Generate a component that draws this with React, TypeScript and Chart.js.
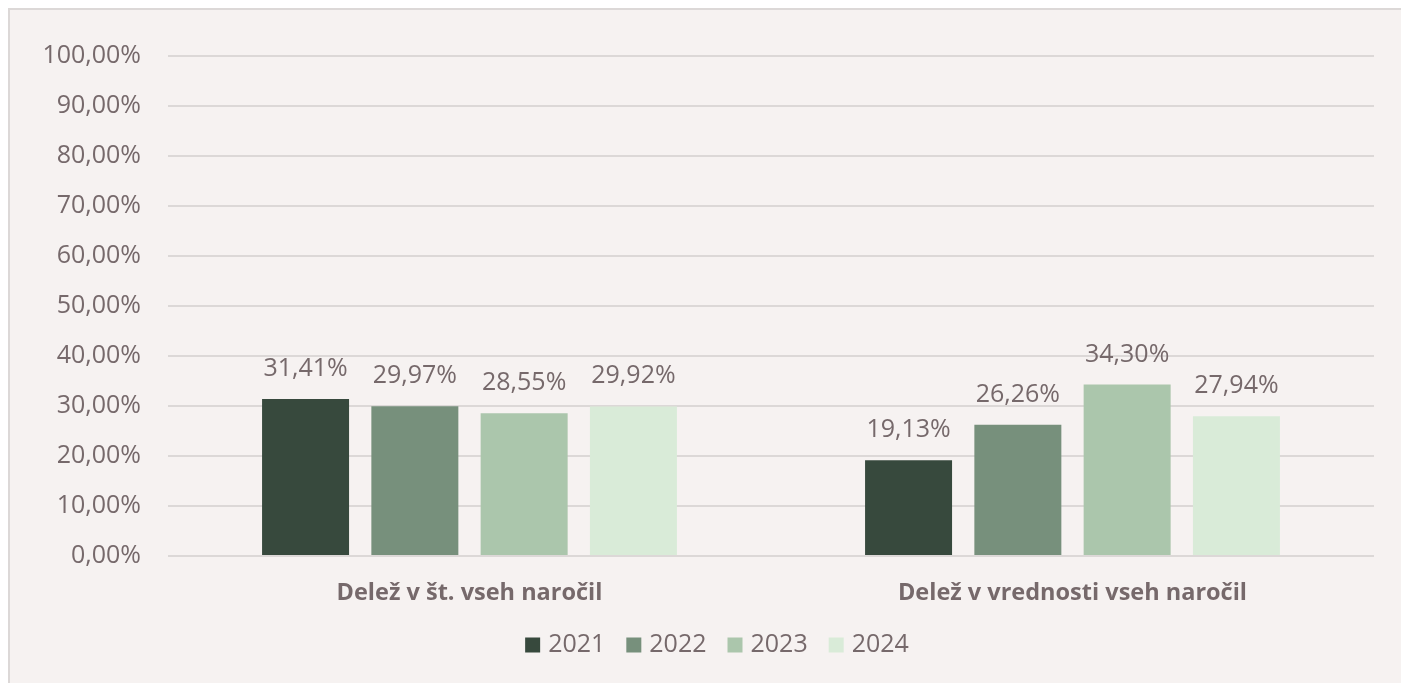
import React, { useEffect, useRef } from "react";
import { Chart, registerables } from "chart.js";

Chart.register(...registerables);

const categories = ["Delež v št. vseh naročil", "Delež v vrednosti vseh naročil"];
const seriesLabels = ["2021", "2022", "2023", "2024"];
const values2021 = [31.41, 19.13];
const values2022 = [29.97, 26.26];
const values2023 = [28.55, 34.3];
const values2024 = [29.92, 27.94];
const seriesColors = ["#37493d", "#77907c", "#abc6ac", "#d9ebd8"];
const yTicks = [0, 10, 20, 30, 40, 50, 60, 70, 80, 90, 100];

const TEXT = "#76696b";
const FONT = "'Open Sans', 'Noto Sans', sans-serif";

const fmt = (v: number) => v.toFixed(2).replace(".", ",") + "%";

const dataLabelPlugin = {
  id: "dataLabels",
  afterDatasetsDraw(chart: any) {
    const ctx = chart.ctx;
    ctx.save();
    ctx.font = `25px ${FONT}`;
    ctx.fillStyle = TEXT;
    ctx.textAlign = "center";
    ctx.textBaseline = "alphabetic";
    chart.data.datasets.forEach((ds: any, i: number) => {
      const meta = chart.getDatasetMeta(i);
      meta.data.forEach((bar: any, j: number) => {
        ctx.fillText(fmt(ds.data[j]), bar.x, bar.y - 23);
      });
    });
    ctx.restore();
  },
};

const legendPlugin = {
  id: "customLegend",
  afterDraw(chart: any) {
    const ctx = chart.ctx;
    ctx.save();
    ctx.font = `25px ${FONT}`;
    const box = 15;
    const gapBoxText = 8;
    const gapItems = 21;
    const items = chart.data.datasets.map((ds: any) => ({
      label: ds.label,
      color: ds.backgroundColor,
      w: ctx.measureText(ds.label).width,
    }));
    const total =
      items.reduce((s: number, it: any) => s + box + gapBoxText + it.w, 0) +
      gapItems * (items.length - 1);
    let x = chart.width / 2 - total / 2;
    const cy = chart.chartArea.bottom + 89;
    items.forEach((it: any) => {
      ctx.fillStyle = it.color;
      ctx.fillRect(x, cy - box / 2, box, box);
      x += box + gapBoxText;
      ctx.fillStyle = TEXT;
      ctx.textAlign = "left";
      ctx.textBaseline = "middle";
      ctx.fillText(it.label, x, cy);
      x += it.w + gapItems;
    });
    ctx.restore();
  },
};

export default function App() {
  const ref = useRef<HTMLCanvasElement | null>(null);

  useEffect(() => {
    let chart: Chart | null = null;
    let cancelled = false;
    const make = () => {
      if (cancelled || !ref.current) return;
      const allSeries = [values2021, values2022, values2023, values2024];
      chart = new Chart(ref.current, {
        type: "bar",
        data: {
          labels: categories,
          datasets: allSeries.map((vals, i) => ({
            label: seriesLabels[i],
            data: vals,
            backgroundColor: seriesColors[i],
            borderWidth: 0,
            categoryPercentage: 0.725,
            barPercentage: 0.796,
          })),
        },
        options: {
          responsive: false,
          maintainAspectRatio: false,
          animation: false,
          layout: { padding: { top: 46, right: 50, bottom: 0, left: 0 } },
          plugins: {
            legend: { display: false },
            tooltip: { enabled: false },
            title: { display: false },
          },
          scales: {
            x: {
              grid: { display: false, drawTicks: false },
              border: { display: false },
              ticks: {
                color: TEXT,
                padding: 23,
                font: { family: FONT, size: 23.5, weight: "bold" },
              },
              afterFit: (s: any) => {
                s.height = 127;
              },
            },
            y: {
              min: 0,
              max: 100,
              afterBuildTicks: (s: any) => {
                s.ticks = yTicks.map((v) => ({ value: v }));
              },
              grid: { color: "#dcd8d7", lineWidth: 2, drawTicks: false },
              border: { display: false },
              ticks: {
                color: TEXT,
                padding: 27,
                font: { family: FONT, size: 25 },
                callback: (v: any) => fmt(Number(v)),
              },
              afterFit: (s: any) => {
                s.width = 158;
              },
            },
          },
        },
        plugins: [dataLabelPlugin, legendPlugin],
      });
    };
    const fontsReady = (document as any).fonts
      ? Promise.all([
          (document as any).fonts.load(`25px 'Open Sans'`),
          (document as any).fonts.load(`bold 23.5px 'Open Sans'`),
        ]).catch(() => null)
      : Promise.resolve(null);
    fontsReady.then(make);
    return () => {
      cancelled = true;
      if (chart) chart.destroy();
    };
  }, []);

  return (
    <div
      style={{
        position: "fixed",
        left: 0,
        top: 0,
        width: "100vw",
        height: "100vh",
        overflow: "hidden",
        background: "#ffffff",
      }}
    >
      <div
        style={{
          position: "absolute",
          left: 8,
          top: 8,
          width: 1416,
          height: 677,
          background: "#f6f2f1",
          borderLeft: "2px solid #dcd8d7",
          borderTop: "2px solid #dcd8d7",
          boxSizing: "border-box",
        }}
      >
        <canvas ref={ref} width={1414} height={673} style={{ display: "block" }} />
      </div>
    </div>
  );
}
